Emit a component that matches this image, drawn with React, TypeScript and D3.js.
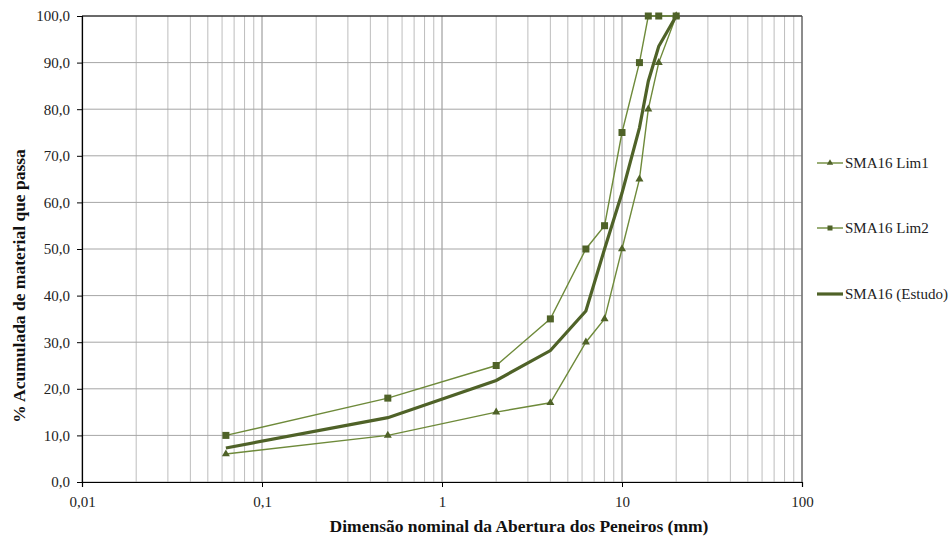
import React, { useEffect, useRef } from 'react';
import * as d3 from 'd3';

// sieve openings (mm)
const sieves = [0.063, 0.5, 2, 4, 6.3, 8, 10, 12.5, 14, 16, 20];
const lim1 = [6, 10, 15, 17, 30, 35, 50, 65, 80, 90, 100];
const lim2 = [10, 18, 25, 35, 50, 55, 75, 90, 100, 100, 100];
const estudo = [7.3, 13.8, 21.8, 28.2, 36.7, 50, 62, 76, 86, 93.5, 100];

const xTicks = [0.01, 0.1, 1, 10, 100];
const yTicks = [0, 10, 20, 30, 40, 50, 60, 70, 80, 90, 100];

const W = 952;
const H = 540;
const M = { left: 82, right: 150, top: 16, bottom: 58 };
const FONT = '"Liberation Serif", "Times New Roman", serif';
const DARK = '#4F6228';
const LIGHT = '#6E8A3A';

const App: React.FC = () => {
  const svgRef = useRef<SVGSVGElement>(null);

  useEffect(() => {
    if (!svgRef.current) return;
    const svg = d3.select(svgRef.current);
    svg.selectAll('*').remove();

    const x = d3.scaleLog().domain([0.01, 100]).range([M.left, W - M.right]);
    const y = d3.scaleLinear().domain([0, 100]).range([H - M.bottom, M.top]);

    const grid = svg.append('g');
    // vertical log grid: 1..9 in every decade
    const minor: number[] = [];
    for (let e = -2; e < 2; e++) {
      for (let k = 1; k < 10; k++) minor.push(k * Math.pow(10, e));
    }
    minor.push(100);
    grid
      .selectAll('line.v')
      .data(minor)
      .enter()
      .append('line')
      .attr('x1', (d) => x(d))
      .attr('x2', (d) => x(d))
      .attr('y1', y(0))
      .attr('y2', y(100))
      .attr('stroke', (d) => (xTicks.includes(d) ? '#8c8c8c' : '#bdbdbd'))
      .attr('stroke-width', 1);
    grid
      .selectAll('line.h')
      .data(yTicks)
      .enter()
      .append('line')
      .attr('x1', x(0.01))
      .attr('x2', x(100))
      .attr('y1', (d) => y(d))
      .attr('y2', (d) => y(d))
      .attr('stroke', '#a6a6a6')
      .attr('stroke-width', 1);

    // frame top / right
    svg
      .append('line')
      .attr('x1', x(0.01))
      .attr('x2', x(100))
      .attr('y1', y(100))
      .attr('y2', y(100))
      .attr('stroke', '#000');
    svg
      .append('line')
      .attr('x1', x(100))
      .attr('x2', x(100))
      .attr('y1', y(0))
      .attr('y2', y(100))
      .attr('stroke', '#555');

    // axes
    const fmt = (v: number) => v.toFixed(1).replace('.', ',');
    const yAxis = svg
      .append('g')
      .attr('transform', `translate(${x(0.01)},0)`)
      .call(d3.axisLeft(y).tickValues(yTicks).tickSize(5).tickPadding(7).tickFormat((d) => fmt(+d)));
    const xAxis = svg
      .append('g')
      .attr('transform', `translate(0,${y(0)})`)
      .call(
        d3
          .axisBottom(x)
          .tickValues(xTicks)
          .tickSize(5)
          .tickPadding(9)
          .tickFormat((d) => String(d).replace('.', ','))
      );
    [yAxis, xAxis].forEach((a) => {
      a.select('.domain').attr('stroke', '#000').attr('stroke-width', 1.2);
      a.selectAll('.tick line').attr('stroke', '#000');
      a.selectAll('text').attr('font-family', FONT).attr('font-size', 15).attr('fill', '#222');
    });

    const line = d3
      .line<number>()
      .x((_, i) => x(sieves[i]))
      .y((d) => y(d));

    svg.append('path').attr('d', line(lim1)).attr('fill', 'none').attr('stroke', LIGHT).attr('stroke-width', 1.4);
    svg.append('path').attr('d', line(lim2)).attr('fill', 'none').attr('stroke', LIGHT).attr('stroke-width', 1.4);
    svg.append('path').attr('d', line(estudo)).attr('fill', 'none').attr('stroke', DARK).attr('stroke-width', 3.2);

    const tri = d3.symbol().type(d3.symbolTriangle).size(28);
    svg
      .selectAll('path.tri')
      .data(lim1)
      .enter()
      .append('path')
      .attr('d', tri())
      .attr('transform', (d, i) => `translate(${x(sieves[i])},${y(d)})`)
      .attr('fill', DARK);
    svg
      .selectAll('rect.sq')
      .data(lim2)
      .enter()
      .append('rect')
      .attr('x', (_, i) => x(sieves[i]) - 3.5)
      .attr('y', (d) => y(d) - 3.5)
      .attr('width', 7)
      .attr('height', 7)
      .attr('fill', DARK);

    // legend
    const legend = [
      { name: 'SMA16 Lim1', mark: 'tri', y: 163 },
      { name: 'SMA16 Lim2', mark: 'sq', y: 228 },
      { name: 'SMA16 (Estudo)', mark: 'none', y: 294 },
    ];
    const lg = svg.selectAll('g.lg').data(legend).enter().append('g').attr('transform', (d) => `translate(817,${d.y})`);
    lg.append('line')
      .attr('x1', 0)
      .attr('x2', 26)
      .attr('stroke', (d) => (d.mark === 'none' ? DARK : LIGHT))
      .attr('stroke-width', (d) => (d.mark === 'none' ? 3.2 : 1.4));
    lg.filter((d) => d.mark === 'tri').append('path').attr('d', d3.symbol().type(d3.symbolTriangle).size(18)()).attr('transform', 'translate(13,0)').attr('fill', DARK);
    lg.filter((d) => d.mark === 'sq').append('rect').attr('x', 10.5).attr('y', -2.5).attr('width', 5).attr('height', 5).attr('fill', DARK);
    lg.append('text')
      .attr('x', 28)
      .attr('dy', '0.35em')
      .attr('font-family', FONT)
      .attr('font-size', 15)
      .attr('fill', '#222')
      .text((d) => d.name);

    // titles
    svg
      .append('text')
      .attr('x', 519)
      .attr('y', 532)
      .attr('text-anchor', 'middle')
      .attr('font-family', FONT)
      .attr('font-weight', 'bold')
      .attr('font-size', 17.5)
      .attr('fill', '#111')
      .text('Dimensão nominal da Abertura dos Peneiros (mm)');
    svg
      .append('text')
      .attr('transform', `translate(25,286) rotate(-90)`)
      .attr('text-anchor', 'middle')
      .attr('font-family', FONT)
      .attr('font-weight', 'bold')
      .attr('font-size', 17.5)
      .attr('fill', '#111')
      .text('% Acumulada de material que passa');
  }, []);

  return <svg ref={svgRef} width={W} height={H} style={{ position: 'absolute', top: 0, left: 0, background: '#fff' }} />;
};

export default App;
